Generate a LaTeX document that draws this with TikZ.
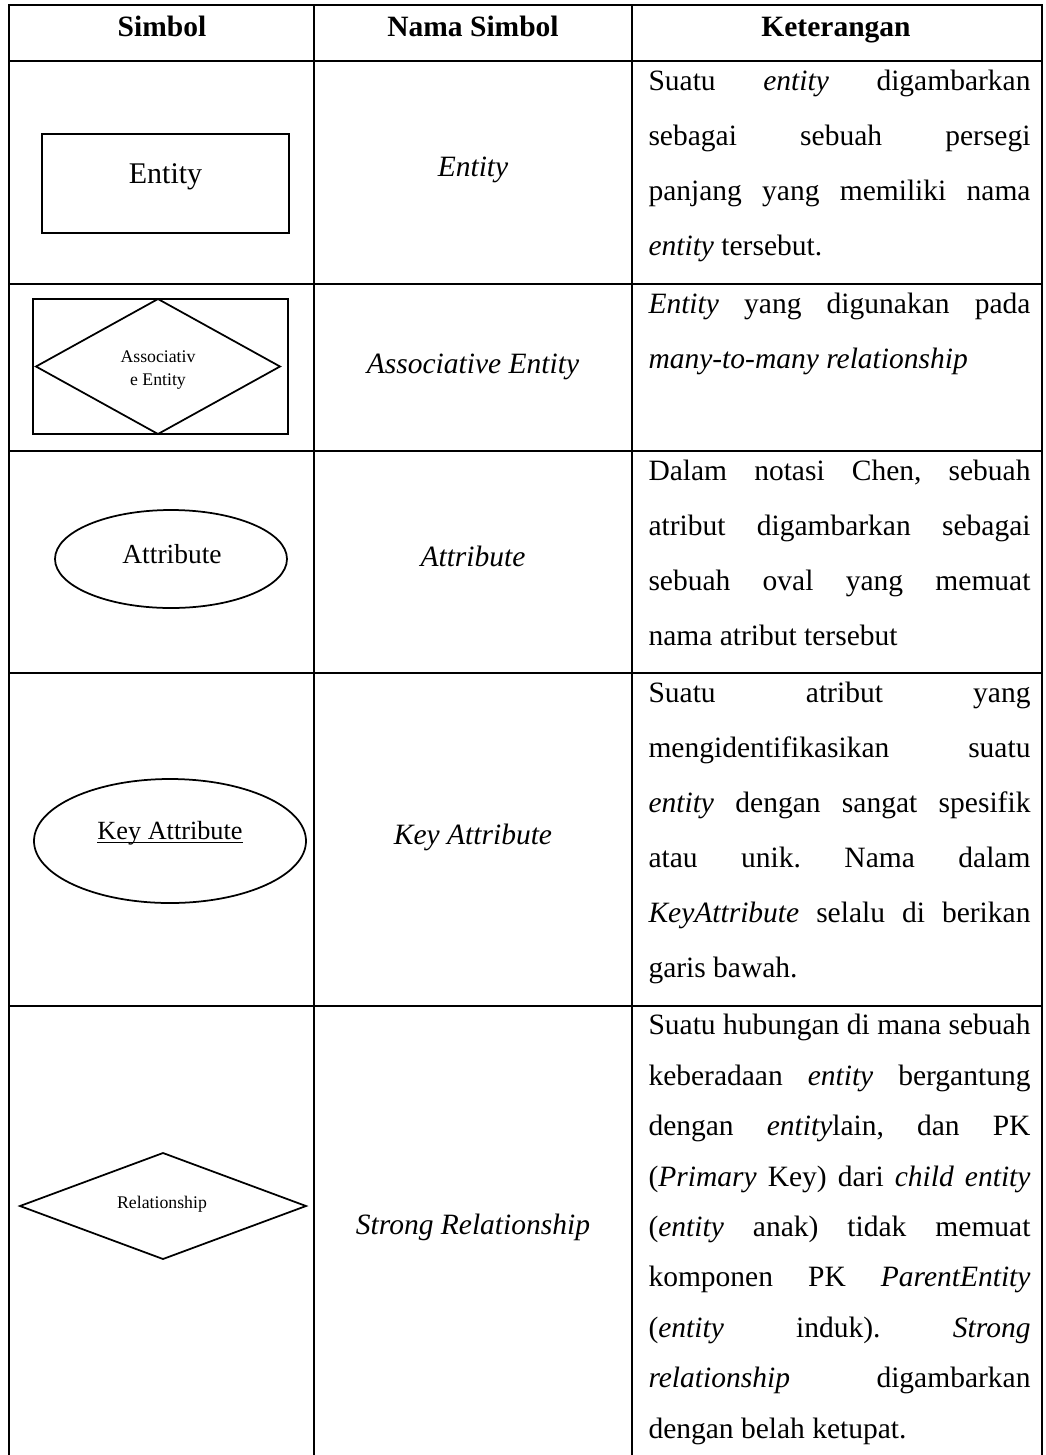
\documentclass[tikz,border=0pt]{standalone}
\usepackage{fontspec}
\setmainfont{Liberation Serif}
\usetikzlibrary{shapes.geometric}
\frenchspacing
\newcommand{\jl}[1]{\makebox[152.8pt][s]{#1}}

\begin{document}
\begin{tikzpicture}
	[x=0.4pt, y=-0.4pt,
	grid/.style={line width=0.8pt},
	shp/.style={draw, line width=0.7pt, inner sep=0pt, outer sep=0pt},
	head/.style={font=\fontsize{11.8}{14}\selectfont\bfseries, anchor=base},
	nama/.style={font=\fontsize{11.8}{14}\selectfont\itshape, anchor=base},
	ket/.style={font=\fontsize{11.8}{22}\selectfont, align=left, anchor=base west, inner sep=0pt},
	kecil/.style={font=\fontsize{7.1}{9.2}\selectfont, align=center, anchor=base, inner sep=0pt}]
	\useasboundingbox (0,0) rectangle (1046,1455);
	% tabel
	\draw[grid] (9,1455) -- (9,5) -- (1042,5) -- (1042,1455);
	\draw[grid] (314,5) -- (314,1455);
	\draw[grid] (632,5) -- (632,1455);
	\foreach \y in {61,284,451,673,1006}
		\draw[grid] (9,\y) -- (1042,\y);
	% judul kolom
	\node[head] (hsimbol) at (162,36) {Simbol};
	\node[head] (hnama) at (473,36) {Nama Simbol};
	\node[head] (hket) at (836,36) {Keterangan};
	% simbol
	\node[shp, rectangle, minimum width=98.8pt, minimum height=39.6pt] (entity) at (165.5,183.5) {};
	\node[anchor=base, inner sep=0pt, font=\fontsize{12}{14}\selectfont] (entitytxt) at (165.5,183) {Entity};
	\node[shp, rectangle, minimum width=102pt, minimum height=54pt] (assoc) at (160.5,366.5) {};
	\node[shp, diamond, minimum width=97.6pt, minimum height=54pt] (assocdia) at (158,366.5) {};
	\node[kecil] (assoctxt) at (158,385) {Associativ\\e Entity};
	\node[shp, ellipse, minimum width=92.8pt, minimum height=39.2pt] (attr) at (171,559) {};
	\node[anchor=base, inner sep=0pt, font=\fontsize{11}{13}\selectfont] (attrtxt) at (172,563) {Attribute};
	\node[shp, ellipse, minimum width=108.8pt, minimum height=49.6pt] (keyattr) at (170,841) {};
	\node[anchor=base, inner sep=0pt, font=\fontsize{10.5}{12}\selectfont] (keyattrtxt) at (170,839)
		{$\underline{\smash{\mbox{Key Attribute}}}$};
	\node[shp, diamond, minimum width=114.4pt, minimum height=42.4pt] (rel) at (163,1206) {};
	\node[kecil] (reltxt) at (162,1208) {Relationship};
	% nama simbol
	\node[nama] (nentity) at (473,176) {Entity};
	\node[nama] (nassoc) at (473,373) {Associative Entity};
	\node[nama] (nattr) at (473,566) {Attribute};
	\node[nama] (nkey) at (473,844) {Key Attribute};
	\node[nama] (nrel) at (473,1234) {Strong Relationship};
	% keterangan
	\node[ket] (kentity) at (648,255) {%
		\jl{Suatu \textit{entity} digambarkan}\\
		\jl{sebagai sebuah persegi}\\
		\jl{panjang yang memiliki nama}\\
		\textit{entity} tersebut.};
	\node[ket] (kassoc) at (648,368) {%
		\jl{\textit{Entity} yang digunakan pada}\\
		\textit{many-to-many relationship}};
	\node[ket] (kattr) at (648,645) {%
		\jl{Dalam notasi Chen, sebuah}\\
		\jl{atribut digambarkan sebagai}\\
		\jl{sebuah oval yang memuat}\\
		nama atribut tersebut};
	\node[ket] (kkey) at (648,977) {%
		\jl{Suatu atribut yang}\\
		\jl{mengidentifikasikan suatu}\\
		\jl{\textit{entity} dengan sangat spesifik}\\
		\jl{atau unik. Nama dalam}\\
		\jl{\textit{KeyAttribute} selalu di berikan}\\
		garis bawah.};
	\node[ket, font=\fontsize{11.8}{20.16}\selectfont] (krel) at (648,1438) {%
		\jl{Suatu hubungan di mana sebuah}\\
		\jl{keberadaan \textit{entity} bergantung}\\
		\jl{dengan \textit{entity}lain, dan PK}\\
		\jl{(\textit{Primary} Key) dari \textit{child entity}}\\
		\jl{(\textit{entity} anak) tidak memuat}\\
		\jl{komponen PK \textit{ParentEntity}}\\
		\jl{(\textit{entity} induk). \textit{Strong}}\\
		\jl{\textit{relationship} digambarkan}\\
		dengan belah ketupat.};
\end{tikzpicture}
\end{document}
